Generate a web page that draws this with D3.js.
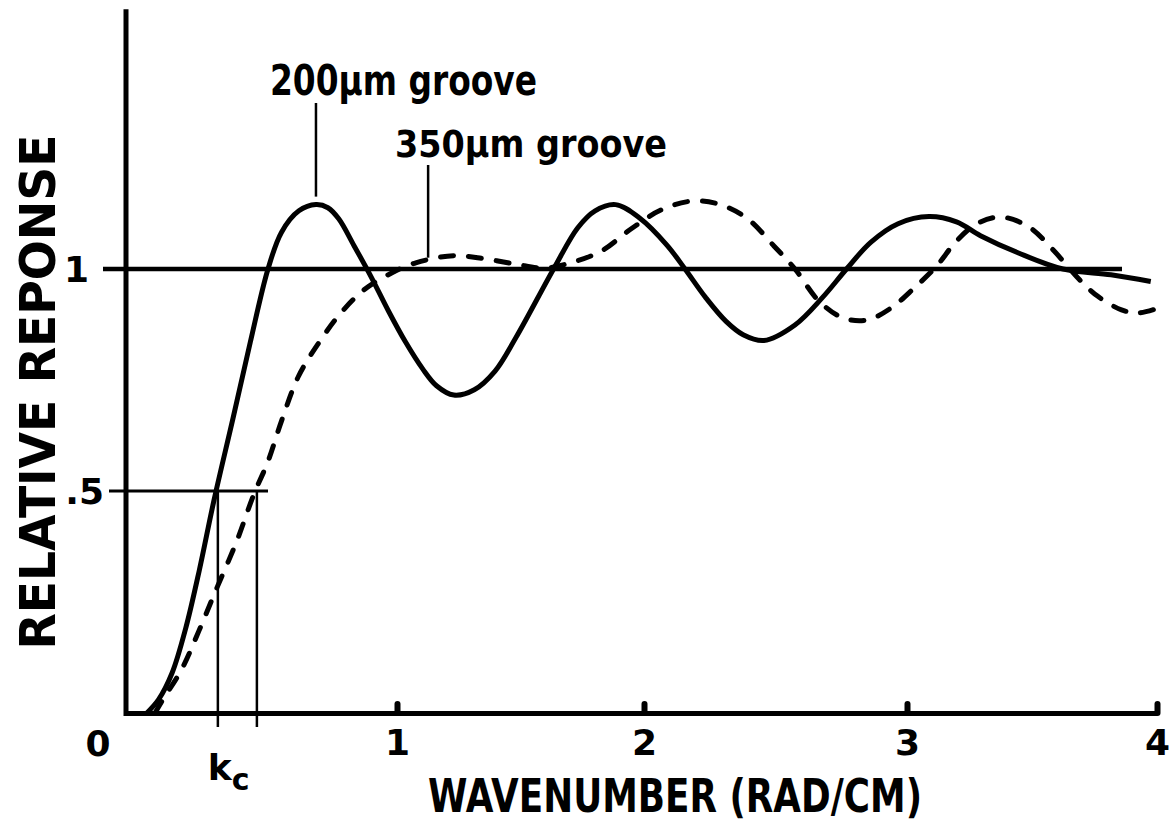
<!DOCTYPE html>
<html>
<head>
<meta charset="utf-8">
<script src="https://cdn.jsdelivr.net/npm/d3@7"></script>
<style>
  body { margin: 0; background: #fff; }
  text { font-family: "DejaVu Sans", sans-serif; font-weight: bold; fill: #000; }
</style>
</head>
<body>
<svg id="response-chart" width="1169" height="827"></svg>
<script>
// Tick values and labels
var xTicks = [1, 2, 3, 4];
var xTickLabels = ["1", "2", "3", "4"];
var yTicks = [0.5, 1];
var yTickLabels = [".5", "1"];

// 200um groove (solid): wavenumber (rad/cm) and relative response
var k200 = [0.077, 0.120, 0.170, 0.220, 0.270, 0.325, 0.395, 0.459, 0.524, 0.574,
            0.638, 0.701, 0.745, 0.785, 0.841, 0.904, 0.968, 1.034, 1.104, 1.160,
            1.230, 1.313, 1.397, 1.481, 1.634, 1.732, 1.802, 1.885, 1.982, 2.087,
            2.156, 2.234, 2.312, 2.377, 2.456, 2.574, 2.679, 2.770, 2.862, 2.966,
            3.088, 3.198, 3.294, 3.446, 3.624, 3.816, 3.975];
var r200 = [0.000, 0.030, 0.090, 0.190, 0.320, 0.480, 0.664, 0.836, 1.000, 1.083,
            1.131, 1.145, 1.138, 1.113, 1.053, 0.983, 0.906, 0.836, 0.775, 0.737,
            0.716, 0.728, 0.770, 0.845, 1.000, 1.093, 1.131, 1.145, 1.115, 1.054,
            1.000, 0.936, 0.882, 0.852, 0.839, 0.874, 0.936, 1.000, 1.060, 1.102,
            1.118, 1.106, 1.075, 1.036, 1.000, 0.987, 0.972];

// 350um groove (dashed)
var k350 = [0.107, 0.135, 0.206, 0.269, 0.332, 0.408, 0.472, 0.523, 0.574, 0.637,
            0.714, 0.790, 0.878, 0.980, 1.076, 1.230, 1.355, 1.481, 1.591, 1.704,
            1.829, 1.947, 2.065, 2.183, 2.285, 2.392, 2.494, 2.574, 2.665, 2.757,
            2.848, 2.939, 3.032, 3.116, 3.198, 3.280, 3.376, 3.487, 3.583, 3.680,
            3.762, 3.858, 3.927, 4.016];
var r350 = [0.000, 0.029, 0.099, 0.185, 0.277, 0.386, 0.493, 0.565, 0.658, 0.759,
            0.836, 0.899, 0.953, 0.991, 1.014, 1.030, 1.023, 1.011, 1.002, 1.014,
            1.041, 1.090, 1.133, 1.153, 1.146, 1.114, 1.052, 1.000, 0.928, 0.890,
            0.885, 0.912, 0.959, 1.005, 1.063, 1.102, 1.117, 1.095, 1.044, 0.982,
            0.939, 0.908, 0.901, 0.914];

// cut-off wavenumbers where each curve reaches .5
var kc = [0.339, 0.483];

var svg = d3.select("#response-chart");

// the hand-drawn axis has slightly uneven tick spacing
var x = d3.scaleLinear().domain([0, 1, 2, 3, 4]).range([126, 397, 644, 907, 1157]);
var y = d3.scaleLinear().domain([0, 1]).range([713, 269]);

// reference lines at 1 and .5
svg.append("line")
   .attr("x1", x(0) - 23).attr("x2", x(3.86))
   .attr("y1", y(1)).attr("y2", y(1))
   .attr("stroke", "#000").attr("stroke-width", 4.5);

svg.append("line")
   .attr("x1", x(0) - 17).attr("x2", x(0.524))
   .attr("y1", y(0.5)).attr("y2", y(0.5))
   .attr("stroke", "#000").attr("stroke-width", 3);

svg.selectAll(".kc-line")
   .data(kc)
   .enter().append("line")
   .attr("class", "kc-line")
   .attr("x1", function(d) { return x(d); })
   .attr("x2", function(d) { return x(d); })
   .attr("y1", y(0.5))
   .attr("y2", y(0) + 14)
   .attr("stroke", "#000").attr("stroke-width", 2.5);

// axes
var xAxis = svg.append("g")
   .attr("transform", "translate(0," + y(0) + ")")
   .call(d3.axisBottom(x)
     .tickValues(xTicks)
     .tickSize(-9)
     .tickSizeOuter(0)
     .tickPadding(16)
     .tickFormat(function(d, i) { return xTickLabels[i]; }));
xAxis.select(".domain").attr("stroke-width", 5);
xAxis.selectAll(".tick line").attr("stroke-width", 6).attr("stroke-linecap", "round");
xAxis.selectAll(".tick text")
   .style("font-size", "36px")
   .style("font-family", "DejaVu Sans")
   .style("font-weight", "bold");

svg.append("line")
   .attr("x1", x(0)).attr("x2", x(0))
   .attr("y1", y(0) + 3).attr("y2", y(1.585))
   .attr("stroke", "#000").attr("stroke-width", 5);

svg.selectAll(".y-label")
   .data(yTicks)
   .enter().append("text")
   .attr("class", "y-label")
   .attr("x", function(d, i) { return i === 0 ? x(0) - 22 : x(0) - 37; })
   .attr("y", function(d) { return y(d); })
   .attr("dy", "0.36em")
   .attr("text-anchor", "end")
   .style("font-size", "36px")
   .text(function(d, i) { return yTickLabels[i]; });

svg.append("text")
   .attr("x", x(0) - 28).attr("y", y(0) + 43)
   .attr("text-anchor", "middle")
   .style("font-size", "36px")
   .text("0");

// curves
var line = d3.line()
   .x(function(d) { return x(d[0]); })
   .y(function(d) { return y(d[1]); })
   .curve(d3.curveCatmullRom.alpha(0.5));

svg.append("path")
   .datum(d3.zip(k350, r350))
   .attr("d", line)
   .attr("fill", "none")
   .attr("stroke", "#000")
   .attr("stroke-width", 5)
   .attr("stroke-linecap", "round")
   .attr("stroke-dasharray", "13,15");

svg.append("path")
   .datum(d3.zip(k200, r200))
   .attr("d", line)
   .attr("fill", "none")
   .attr("stroke", "#000")
   .attr("stroke-width", 5)
   .attr("stroke-linejoin", "round");

// groove labels with leader lines
svg.append("line")
   .attr("x1", x(0.701)).attr("x2", x(0.701))
   .attr("y1", 103).attr("y2", y(1.145) - 8)
   .attr("stroke", "#000").attr("stroke-width", 2.5);
svg.append("text")
   .attr("x", 270).attr("y", 95)
   .attr("textLength", 267).attr("lengthAdjust", "spacingAndGlyphs")
   .style("font-size", "42px")
   .text("200\u00b5m groove");

svg.append("line")
   .attr("x1", x(1.126)).attr("x2", x(1.126))
   .attr("y1", 165).attr("y2", y(1.03) + 2)
   .attr("stroke", "#000").attr("stroke-width", 2.5);
svg.append("text")
   .attr("x", 395).attr("y", 157)
   .attr("textLength", 272).attr("lengthAdjust", "spacingAndGlyphs")
   .style("font-size", "38px")
   .text("350\u00b5m groove");

// k_c label
var kcLabel = svg.append("text")
   .attr("x", x(kc[0]) - 10).attr("y", 780)
   .style("font-size", "36px");
kcLabel.append("tspan").text("k");
kcLabel.append("tspan").attr("dy", 10).style("font-size", "30px").text("c");

// axis titles
svg.append("text")
   .attr("x", 675).attr("y", 812)
   .attr("text-anchor", "middle")
   .attr("textLength", 494).attr("lengthAdjust", "spacingAndGlyphs")
   .style("font-size", "46px")
   .text("WAVENUMBER (RAD/CM)");

svg.append("text")
   .attr("transform", "translate(55,392) rotate(-90)")
   .attr("text-anchor", "middle")
   .attr("textLength", 515).attr("lengthAdjust", "spacingAndGlyphs")
   .style("font-size", "50px")
   .text("RELATIVE  REPONSE");
</script>
</body>
</html>
